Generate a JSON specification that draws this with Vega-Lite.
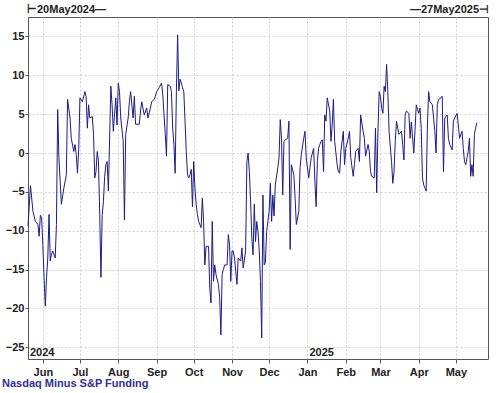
{
  "$schema": "https://vega.github.io/schema/vega-lite/v6.json",
  "autosize": "none",
  "width": 460,
  "height": 342,
  "padding": {"left": 28, "top": 17, "right": 12, "bottom": 34},
  "background": "white",
  "config": {
    "view": {"stroke": "#555555", "strokeWidth": 1},
    "font": "Liberation Sans",
    "axis": {
      "labelFont": "Liberation Sans",
      "labelFontWeight": "bold",
      "labelFontSize": 11,
      "labelColor": "#222222",
      "gridColor": "#cfcfcf",
      "gridDash": [2, 2],
      "gridWidth": 1,
      "domainColor": "#555555",
      "tickColor": "#555555",
      "tickSize": 4,
      "title": null
    }
  },
  "title": {
    "text": "Nasdaq Minus S&P Funding",
    "orient": "bottom",
    "anchor": "start",
    "frame": "group",
    "dx": -26,
    "offset": 1,
    "baseline": "top",
    "font": "Liberation Sans",
    "fontSize": 11,
    "fontWeight": "bold",
    "color": "#30309a"
  },
  "datasets": {
    "series": [
      {"d":"2024-05-20","v":-9.4},{"d":"2024-05-22","v":-4.2},{"d":"2024-05-24","v":-7.5},{"d":"2024-05-26","v":-8.8},{"d":"2024-05-28","v":-9.2},{"d":"2024-05-29","v":-10.7},{"d":"2024-05-30","v":-8},{"d":"2024-05-31","v":-8.3},
      {"d":"2024-06-01","v":-11.8},{"d":"2024-06-02","v":-16},{"d":"2024-06-03","v":-19.7},{"d":"2024-06-04","v":-16},{"d":"2024-06-05","v":-13.5},{"d":"2024-06-06","v":-7.9},{"d":"2024-06-07","v":-13.9},{"d":"2024-06-08","v":-13},{"d":"2024-06-09","v":-12.6},{"d":"2024-06-11","v":-13.5},{"d":"2024-06-12","v":-9.2},{"d":"2024-06-13","v":5.6},{"d":"2024-06-14","v":-0.6},{"d":"2024-06-15","v":-3.6},{"d":"2024-06-16","v":-6.6},{"d":"2024-06-18","v":-4.5},{"d":"2024-06-20","v":-2.8},{"d":"2024-06-21","v":6.9},{"d":"2024-06-23","v":4.5},{"d":"2024-06-24","v":1.9},{"d":"2024-06-26","v":0.2},{"d":"2024-06-27","v":1.1},{"d":"2024-06-28","v":-0.2},{"d":"2024-06-29","v":-2.6},{"d":"2024-06-30","v":0.4},
      {"d":"2024-07-01","v":7.1},{"d":"2024-07-03","v":6.6},{"d":"2024-07-05","v":7.9},{"d":"2024-07-06","v":7.3},{"d":"2024-07-07","v":3.2},{"d":"2024-07-08","v":6.2},{"d":"2024-07-09","v":4.5},{"d":"2024-07-11","v":4.7},{"d":"2024-07-12","v":2.4},{"d":"2024-07-13","v":-3.2},{"d":"2024-07-14","v":-2.4},{"d":"2024-07-15","v":0.2},{"d":"2024-07-16","v":-1.1},{"d":"2024-07-17","v":-7.9},{"d":"2024-07-18","v":-16},{"d":"2024-07-19","v":-8},{"d":"2024-07-20","v":-6.2},{"d":"2024-07-21","v":-3.0},{"d":"2024-07-22","v":-1.5},{"d":"2024-07-23","v":-1.1},{"d":"2024-07-24","v":-4.9},{"d":"2024-07-26","v":8.6},{"d":"2024-07-27","v":6.2},{"d":"2024-07-28","v":2.8},{"d":"2024-07-30","v":7.1},{"d":"2024-07-31","v":3.6},
      {"d":"2024-08-01","v":9.0},{"d":"2024-08-02","v":7.9},{"d":"2024-08-03","v":4.5},{"d":"2024-08-05","v":1.5},{"d":"2024-08-06","v":-8.6},{"d":"2024-08-07","v":2.4},{"d":"2024-08-09","v":4.5},{"d":"2024-08-10","v":6.6},{"d":"2024-08-11","v":7.9},{"d":"2024-08-13","v":4.5},{"d":"2024-08-14","v":7.3},{"d":"2024-08-15","v":3.7},{"d":"2024-08-18","v":3.7},{"d":"2024-08-19","v":5.4},{"d":"2024-08-20","v":6.6},{"d":"2024-08-22","v":4.9},{"d":"2024-08-24","v":5.8},{"d":"2024-08-25","v":4.5},{"d":"2024-08-27","v":5.8},{"d":"2024-08-28","v":6.6},{"d":"2024-08-30","v":6.9},{"d":"2024-08-31","v":7.3},
      {"d":"2024-09-01","v":7.9},{"d":"2024-09-03","v":8.4},{"d":"2024-09-05","v":9.0},{"d":"2024-09-06","v":7.5},{"d":"2024-09-08","v":2.4},{"d":"2024-09-09","v":-0.4},{"d":"2024-09-10","v":8.8},{"d":"2024-09-12","v":8.6},{"d":"2024-09-13","v":7.9},{"d":"2024-09-14","v":3.2},{"d":"2024-09-15","v":1.1},{"d":"2024-09-16","v":-2.6},{"d":"2024-09-17","v":7.9},{"d":"2024-09-18","v":15.2},{"d":"2024-09-19","v":8.0},{"d":"2024-09-20","v":9.5},{"d":"2024-09-21","v":9.0},{"d":"2024-09-22","v":8.4},{"d":"2024-09-23","v":7.9},{"d":"2024-09-24","v":4.1},{"d":"2024-09-25","v":0.2},{"d":"2024-09-26","v":-2.8},{"d":"2024-09-27","v":-3.2},{"d":"2024-09-28","v":-2.8},{"d":"2024-09-29","v":-2.1},{"d":"2024-09-30","v":-6.9},
      {"d":"2024-10-01","v":-1.1},{"d":"2024-10-02","v":-4.5},{"d":"2024-10-03","v":-6.6},{"d":"2024-10-04","v":-7.9},{"d":"2024-10-05","v":-8.8},{"d":"2024-10-07","v":-9.6},{"d":"2024-10-08","v":-5.8},{"d":"2024-10-09","v":-8.8},{"d":"2024-10-10","v":-14.4},{"d":"2024-10-11","v":-12},{"d":"2024-10-13","v":-12},{"d":"2024-10-14","v":-17.4},{"d":"2024-10-15","v":-19.3},{"d":"2024-10-16","v":-8.8},{"d":"2024-10-17","v":-16.5},{"d":"2024-10-18","v":-14.4},{"d":"2024-10-19","v":-15.6},{"d":"2024-10-21","v":-16.9},{"d":"2024-10-22","v":-18.6},{"d":"2024-10-23","v":-23.4},{"d":"2024-10-24","v":-15.6},{"d":"2024-10-25","v":-15},{"d":"2024-10-26","v":-14.4},{"d":"2024-10-28","v":-14.4},{"d":"2024-10-29","v":-10.5},{"d":"2024-10-30","v":-11.8},{"d":"2024-10-31","v":-16.5},
      {"d":"2024-11-01","v":-12.6},{"d":"2024-11-02","v":-12.6},{"d":"2024-11-03","v":-13.5},{"d":"2024-11-04","v":-15.2},{"d":"2024-11-05","v":-16.9},{"d":"2024-11-06","v":-13.5},{"d":"2024-11-08","v":-13.9},{"d":"2024-11-09","v":-12.2},{"d":"2024-11-10","v":-14.8},{"d":"2024-11-12","v":-12.6},{"d":"2024-11-13","v":-1.1},{"d":"2024-11-14","v":0},{"d":"2024-11-15","v":-2.4},{"d":"2024-11-16","v":-6.2},{"d":"2024-11-17","v":-10.9},{"d":"2024-11-18","v":-13.1},{"d":"2024-11-19","v":-6.6},{"d":"2024-11-20","v":-11.4},{"d":"2024-11-21","v":-8.8},{"d":"2024-11-22","v":-10.1},{"d":"2024-11-23","v":-12.6},{"d":"2024-11-24","v":-16.5},{"d":"2024-11-25","v":-23.8},{"d":"2024-11-26","v":-5.4},{"d":"2024-11-27","v":-14.4},{"d":"2024-11-28","v":-14.1},{"d":"2024-11-29","v":-10.1},
      {"d":"2024-12-01","v":-7.5},{"d":"2024-12-02","v":-3.9},{"d":"2024-12-03","v":-8.8},{"d":"2024-12-04","v":-5.4},{"d":"2024-12-05","v":-8.1},{"d":"2024-12-06","v":-4.1},{"d":"2024-12-08","v":-1.9},{"d":"2024-12-09","v":-0.6},{"d":"2024-12-10","v":4.3},{"d":"2024-12-11","v":1.9},{"d":"2024-12-12","v":-5.4},{"d":"2024-12-13","v":1.5},{"d":"2024-12-14","v":1.7},{"d":"2024-12-16","v":1.9},{"d":"2024-12-17","v":4.1},{"d":"2024-12-18","v":-12.4},{"d":"2024-12-19","v":-1.5},{"d":"2024-12-21","v":-2.8},{"d":"2024-12-22","v":-5.8},{"d":"2024-12-23","v":-9.2},{"d":"2024-12-25","v":-7.5},{"d":"2024-12-26","v":-1.9},{"d":"2024-12-27","v":-0.2},{"d":"2024-12-29","v":1.9},{"d":"2024-12-30","v":2.8},{"d":"2024-12-31","v":-0.6},
      {"d":"2025-01-02","v":-3.2},{"d":"2025-01-03","v":-1.9},{"d":"2025-01-04","v":-0.6},{"d":"2025-01-06","v":0.6},{"d":"2025-01-07","v":-3.6},{"d":"2025-01-08","v":-6.9},{"d":"2025-01-09","v":-1.1},{"d":"2025-01-10","v":0.6},{"d":"2025-01-11","v":1.1},{"d":"2025-01-12","v":1.5},{"d":"2025-01-13","v":1.7},{"d":"2025-01-14","v":-2.4},{"d":"2025-01-15","v":4.9},{"d":"2025-01-16","v":4.1},{"d":"2025-01-17","v":7.1},{"d":"2025-01-19","v":5.4},{"d":"2025-01-20","v":1.5},{"d":"2025-01-21","v":3.6},{"d":"2025-01-22","v":6.9},{"d":"2025-01-23","v":1.5},{"d":"2025-01-25","v":-1.5},{"d":"2025-01-26","v":-2.4},{"d":"2025-01-27","v":-2.6},{"d":"2025-01-28","v":0.2},{"d":"2025-01-30","v":2.8},{"d":"2025-01-31","v":-1.5},
      {"d":"2025-02-01","v":0.6},{"d":"2025-02-03","v":1.9},{"d":"2025-02-04","v":2.8},{"d":"2025-02-05","v":-0.6},{"d":"2025-02-07","v":-3},{"d":"2025-02-08","v":-1.5},{"d":"2025-02-09","v":0.2},{"d":"2025-02-11","v":0.6},{"d":"2025-02-12","v":-1.1},{"d":"2025-02-13","v":4.9},{"d":"2025-02-15","v":2.8},{"d":"2025-02-16","v":1.9},{"d":"2025-02-17","v":-0.4},{"d":"2025-02-19","v":1.1},{"d":"2025-02-20","v":0.2},{"d":"2025-02-21","v":-2.4},{"d":"2025-02-22","v":-3.0},{"d":"2025-02-24","v":-3.2},{"d":"2025-02-25","v":3.2},{"d":"2025-02-26","v":-5.1},{"d":"2025-02-27","v":2.8},{"d":"2025-02-28","v":7.9},
      {"d":"2025-03-01","v":7.3},{"d":"2025-03-02","v":5.8},{"d":"2025-03-03","v":5.1},{"d":"2025-03-04","v":8.6},{"d":"2025-03-05","v":7.9},{"d":"2025-03-06","v":11.4},{"d":"2025-03-07","v":7.9},{"d":"2025-03-08","v":2.8},{"d":"2025-03-10","v":-1.1},{"d":"2025-03-11","v":-3.9},{"d":"2025-03-12","v":-2.4},{"d":"2025-03-13","v":1.5},{"d":"2025-03-14","v":4.1},{"d":"2025-03-15","v":3.2},{"d":"2025-03-16","v":2.4},{"d":"2025-03-18","v":2.8},{"d":"2025-03-19","v":1.1},{"d":"2025-03-20","v":-0.9},{"d":"2025-03-21","v":4.9},{"d":"2025-03-22","v":5.4},{"d":"2025-03-24","v":5.1},{"d":"2025-03-25","v":1.9},{"d":"2025-03-26","v":4.0},{"d":"2025-03-28","v":0},{"d":"2025-03-29","v":3.0},{"d":"2025-03-30","v":6.2},
      {"d":"2025-04-01","v":5.1},{"d":"2025-04-02","v":5.8},{"d":"2025-04-03","v":3.2},{"d":"2025-04-04","v":-3.2},{"d":"2025-04-05","v":-4.1},{"d":"2025-04-07","v":-4.9},{"d":"2025-04-08","v":3.6},{"d":"2025-04-09","v":7.9},{"d":"2025-04-10","v":6.6},{"d":"2025-04-12","v":6.2},{"d":"2025-04-13","v":4.5},{"d":"2025-04-14","v":2.8},{"d":"2025-04-15","v":0},{"d":"2025-04-16","v":6.2},{"d":"2025-04-17","v":6.9},{"d":"2025-04-19","v":7.1},{"d":"2025-04-20","v":7.3},{"d":"2025-04-21","v":-2.4},{"d":"2025-04-22","v":4.5},{"d":"2025-04-24","v":4.9},{"d":"2025-04-25","v":1.9},{"d":"2025-04-26","v":1.1},{"d":"2025-04-28","v":0.4},{"d":"2025-04-29","v":4.1},{"d":"2025-04-30","v":4.5},
      {"d":"2025-05-02","v":5.1},{"d":"2025-05-03","v":3.6},{"d":"2025-05-04","v":1.9},{"d":"2025-05-06","v":2.8},{"d":"2025-05-07","v":0.6},{"d":"2025-05-08","v":-1.1},{"d":"2025-05-09","v":-1.5},{"d":"2025-05-11","v":0.2},{"d":"2025-05-12","v":1.9},{"d":"2025-05-13","v":-3},{"d":"2025-05-14","v":-1.5},{"d":"2025-05-15","v":-3},{"d":"2025-05-16","v":2.4},{"d":"2025-05-17","v":3.2},{"d":"2025-05-18","v":3.9}
    ],
    "years": [{"d":"2024-05-20","t":"2024"},{"d":"2025-01-01","t":"2025"}],
    "startLabel": [{"d":"2024-05-20","t":"⊢20May2024—"}],
    "endLabel": [{"d":"2025-05-27","t":"—27May2025⊣"}]
  },
  "layer": [
    {
      "data": {"name": "series"},
      "mark": {"type": "line", "color": "#1c1c86", "strokeWidth": 1, "interpolate": "linear"},
      "encoding": {
        "x": {
          "field": "d", "type": "temporal",
          "scale": {"type": "utc", "domain": ["2024-05-20", "2025-05-27"], "nice": false},
          "axis": {
            "format": "%b",
            "values": ["2024-06-01","2024-07-01","2024-08-01","2024-09-01","2024-10-01","2024-11-01","2024-12-01","2025-01-01","2025-02-01","2025-03-01","2025-04-01","2025-05-01"],
            "labelPadding": 3,
            "labelFlush": false,
            "labelOverlap": false,
            "domain": false
          }
        },
        "y": {
          "field": "v", "type": "quantitative",
          "scale": {"domain": [-26.5, 17.5], "nice": false, "zero": false},
          "axis": {
            "values": [-25, -22.5, -20, -17.5, -15, -12.5, -10, -7.5, -5, -2.5, 0, 2.5, 5, 7.5, 10, 12.5, 15, 17.5],
            "labelPadding": 1,
            "tickSize": 3,
            "labelFlush": false,
            "labelOverlap": false
          }
        }
      }
    },
    {
      "data": {"name": "years"},
      "mark": {"type": "text", "align": "left", "baseline": "bottom", "dx": 2, "dy": -1, "font": "Liberation Sans", "fontWeight": "bold", "fontSize": 11, "color": "#222222"},
      "encoding": {
        "x": {"field": "d", "type": "temporal"},
        "y": {"datum": -26.5, "type": "quantitative"},
        "text": {"field": "t"}
      }
    },
    {
      "data": {"name": "startLabel"},
      "mark": {"type": "text", "align": "left", "baseline": "bottom", "dx": -1, "dy": -2, "font": "Liberation Sans", "fontWeight": "bold", "fontSize": 11, "color": "#222222", "clip": false},
      "encoding": {
        "x": {"field": "d", "type": "temporal"},
        "y": {"datum": 17.5, "type": "quantitative"},
        "text": {"field": "t"}
      }
    },
    {
      "data": {"name": "endLabel"},
      "mark": {"type": "text", "align": "right", "baseline": "bottom", "dx": 1, "dy": -2, "font": "Liberation Sans", "fontWeight": "bold", "fontSize": 11, "color": "#222222", "clip": false},
      "encoding": {
        "x": {"field": "d", "type": "temporal"},
        "y": {"datum": 17.5, "type": "quantitative"},
        "text": {"field": "t"}
      }
    }
  ]
}
